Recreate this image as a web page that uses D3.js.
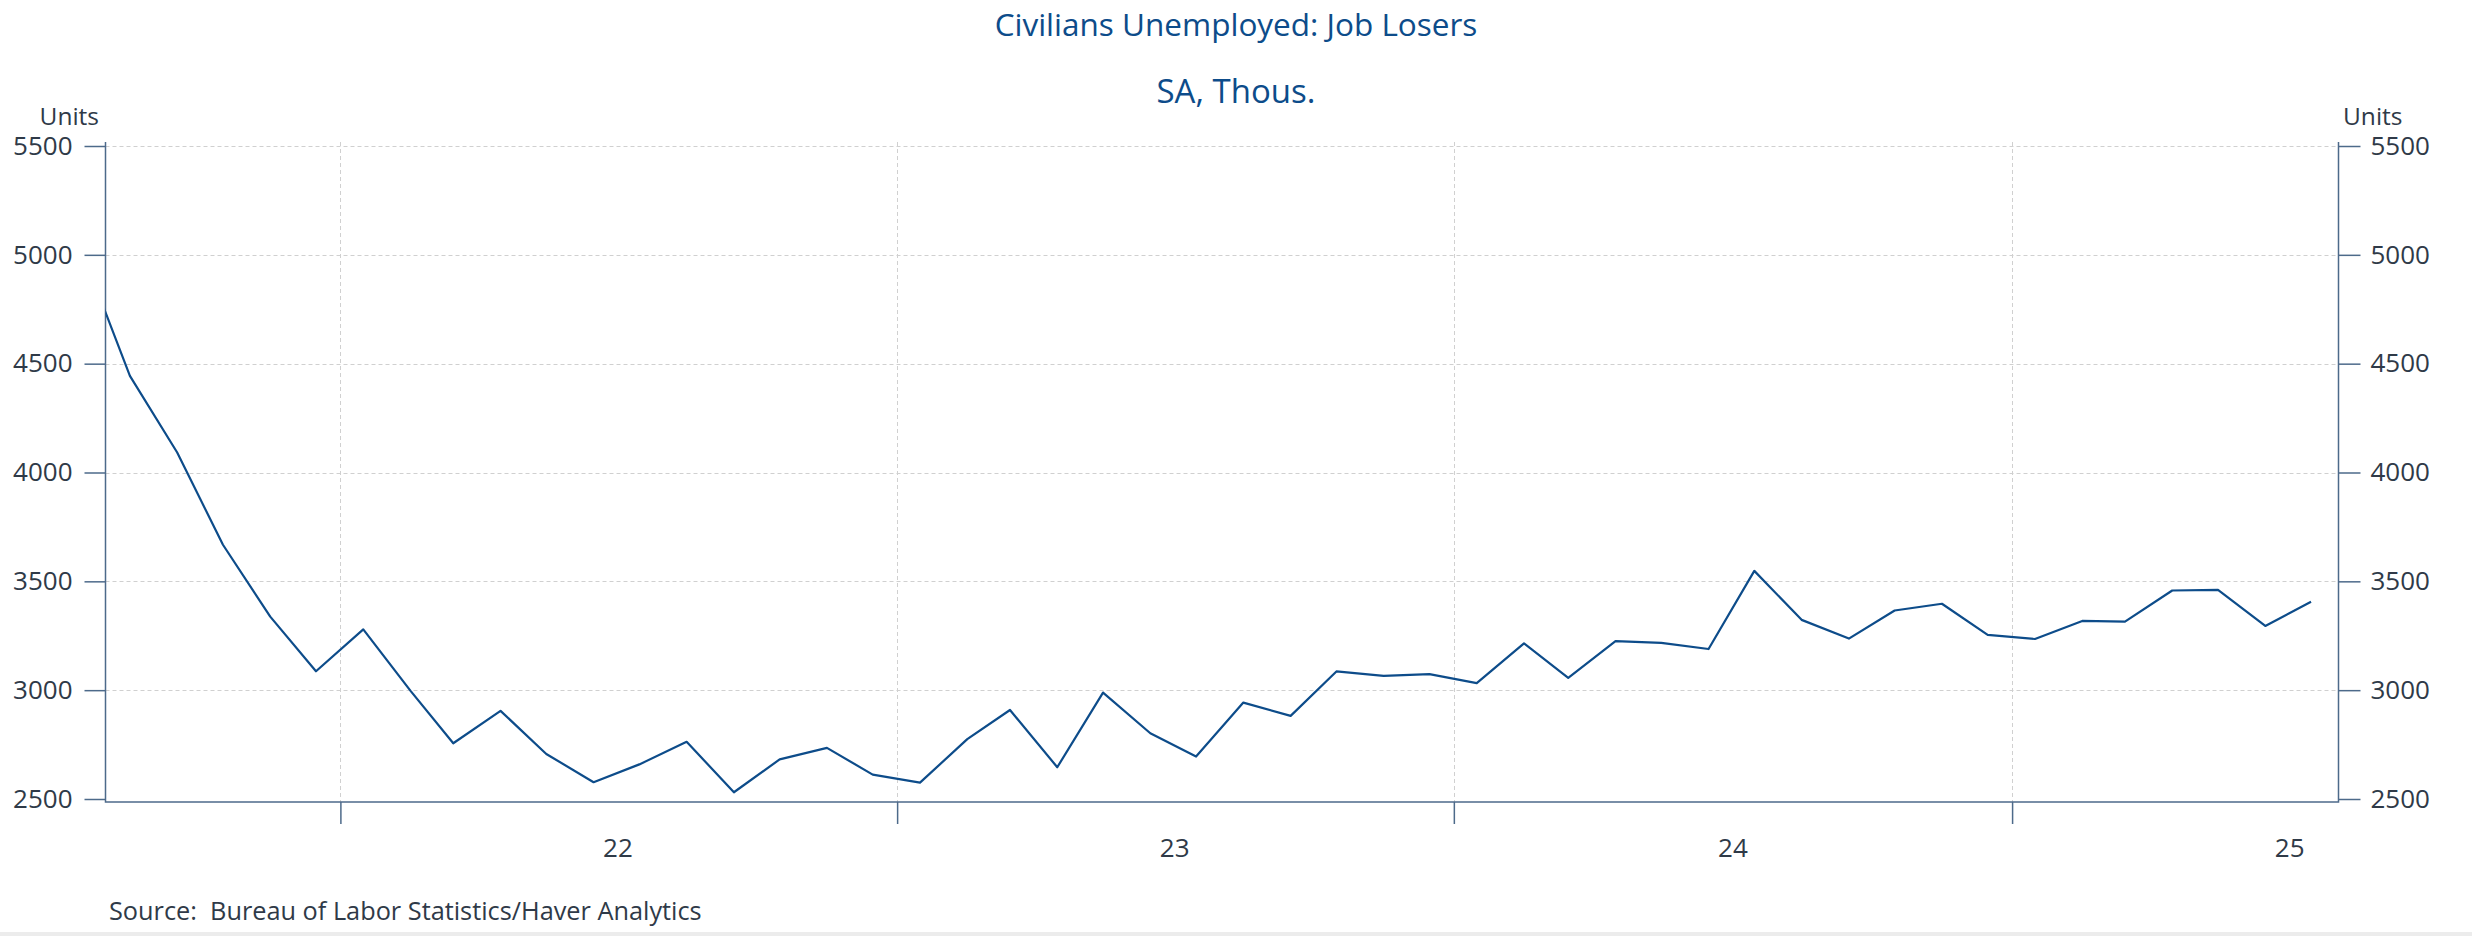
<!DOCTYPE html>
<html>
<head>
<meta charset="utf-8">
<script src="https://cdn.jsdelivr.net/npm/d3@7"></script>
<style>
  body { margin: 0; background: #fff; }
  svg { display: block; font-family: "Open Sans", "Noto Sans", sans-serif; }
</style>
</head>
<body>
<svg id="chart" width="2472" height="936"></svg>
<script>
// monthly observations, thousands (SA)
const months = [
  "2021-07", "2021-08", "2021-09", "2021-10", "2021-11", "2021-12",
  "2022-01", "2022-02", "2022-03", "2022-04", "2022-05", "2022-06",
  "2022-07", "2022-08", "2022-09", "2022-10", "2022-11", "2022-12",
  "2023-01", "2023-02", "2023-03", "2023-04", "2023-05", "2023-06",
  "2023-07", "2023-08", "2023-09", "2023-10", "2023-11", "2023-12",
  "2024-01", "2024-02", "2024-03", "2024-04", "2024-05", "2024-06",
  "2024-07", "2024-08", "2024-09", "2024-10", "2024-11", "2024-12",
  "2025-01", "2025-02", "2025-03", "2025-04", "2025-05", "2025-06",
  "2025-07"
];
const jobLosers = [
  5010, 4444, 4092, 3668, 3338, 3087,
  3279, 2997, 2756, 2905, 2707, 2577,
  2659, 2763, 2531, 2682, 2735, 2612,
  2575, 2775, 2909, 2646, 2989, 2802,
  2695, 2943, 2882, 3086, 3066, 3074,
  3032, 3215, 3057, 3225, 3217, 3189,
  3548, 3323, 3237, 3366, 3397, 3254,
  3235, 3318, 3315, 3458, 3461, 3295,
  3406
];
const yTicks = [2500, 3000, 3500, 4000, 4500, 5000, 5500];
const yearStarts = ["2022-01-01", "2023-01-01", "2024-01-01", "2025-01-01"];
const yearLabels = ["22", "23", "24", "25"];
const yearMids = ["2022-07-02", "2023-07-02", "2024-07-02", "2025-07-02"];

const navy = "#0d4c8a";
const axisColor = "#4d6a8a";
const textColor = "#2f3a48";
const gridColor = "#d0d0d0";

const plotLeft = 105.5, plotRight = 2338.5, plotTop = 142, plotBottom = 802;

const svg = d3.select("#chart");
const parseMonth = d3.timeParse("%Y-%m");
const parseDay = d3.timeParse("%Y-%m-%d");

const data = months.map((m, i) => ({
  date: d3.timeDay.offset(parseMonth(m), 15),
  value: jobLosers[i]
}));

const x = d3.scaleTime()
  .domain([parseDay("2021-07-31"), parseDay("2025-08-03")])
  .range([plotLeft, plotRight]);

const y = d3.scaleLinear()
  .domain([2500, 5500])
  .range([799, 146]);

// titles
svg.append("text")
  .attr("x", 1236).attr("y", 36)
  .attr("text-anchor", "middle")
  .attr("font-size", 31.5)
  .attr("fill", navy)
  .text("Civilians Unemployed: Job Losers");

svg.append("text")
  .attr("x", 1236).attr("y", 103)
  .attr("text-anchor", "middle")
  .attr("font-size", 33)
  .attr("fill", navy)
  .text("SA, Thous.");

svg.append("text")
  .attr("x", 99).attr("y", 125)
  .attr("text-anchor", "end")
  .attr("font-size", 24.5)
  .attr("fill", textColor)
  .text("Units");

svg.append("text")
  .attr("x", 2343).attr("y", 125)
  .attr("font-size", 24.5)
  .attr("fill", textColor)
  .text("Units");

// grid
const grid = svg.append("g").attr("stroke", gridColor).attr("stroke-width", 1).attr("stroke-dasharray", "4,3");
grid.selectAll("line.h")
  .data(yTicks.filter(t => t > 2500))
  .enter().append("line")
  .attr("class", "h")
  .attr("x1", plotLeft).attr("x2", plotRight)
  .attr("y1", d => Math.round(y(d)) + 0.5)
  .attr("y2", d => Math.round(y(d)) + 0.5);
grid.selectAll("line.v")
  .data(yearStarts.map(parseDay))
  .enter().append("line")
  .attr("class", "v")
  .attr("x1", d => Math.round(x(d)) + 0.5)
  .attr("x2", d => Math.round(x(d)) + 0.5)
  .attr("y1", plotTop).attr("y2", plotBottom);

// y axes
function styleAxis(g) {
  g.select(".domain").remove();
  g.selectAll(".tick line").attr("stroke", axisColor).attr("stroke-width", 1.5);
  g.selectAll(".tick text").attr("fill", textColor).attr("font-size", 26)
    .attr("font-family", "\"Open Sans\", \"Noto Sans\", sans-serif");
}

svg.append("g")
  .attr("transform", `translate(${plotLeft},0)`)
  .call(d3.axisLeft(y).tickValues(yTicks).tickSize(21).tickPadding(12).tickFormat(d3.format("d")))
  .call(styleAxis);

svg.append("g")
  .attr("transform", `translate(${plotRight},0)`)
  .call(d3.axisRight(y).tickValues(yTicks).tickSize(22).tickPadding(10).tickFormat(d3.format("d")))
  .call(styleAxis);

// x axis: ticks at year boundaries, labels mid-year
svg.append("g")
  .attr("transform", `translate(0,${plotBottom})`)
  .call(d3.axisBottom(x).tickValues(yearStarts.map(parseDay)).tickSize(22).tickFormat(""))
  .call(styleAxis);

svg.append("g")
  .selectAll("text")
  .data(yearMids)
  .enter().append("text")
  .attr("x", d => x(parseDay(d)))
  .attr("y", 857)
  .attr("text-anchor", "middle")
  .attr("font-size", 26)
  .attr("fill", textColor)
  .text((d, i) => yearLabels[i]);

// frame
svg.append("path")
  .attr("d", `M${plotLeft},${plotTop}V${plotBottom}H${plotRight}V${plotTop}`)
  .attr("fill", "none")
  .attr("stroke", axisColor)
  .attr("stroke-width", 1.5);

// series
svg.append("clipPath").attr("id", "plotClip")
  .append("rect")
  .attr("x", plotLeft).attr("y", plotTop)
  .attr("width", plotRight - plotLeft).attr("height", plotBottom - plotTop);

const line = d3.line()
  .x(d => x(d.date))
  .y(d => y(d.value));

svg.append("path")
  .datum(data)
  .attr("clip-path", "url(#plotClip)")
  .attr("fill", "none")
  .attr("stroke", navy)
  .attr("stroke-width", 2.2)
  .attr("stroke-linejoin", "round")
  .attr("d", line);

// source note
svg.append("text")
  .attr("x", 109).attr("y", 920)
  .attr("font-size", 25.3)
  .attr("fill", textColor)
  .style("white-space", "pre")
  .text("Source:  Bureau of Labor Statistics/Haver Analytics");

svg.append("rect")
  .attr("x", 0).attr("y", 932)
  .attr("width", 2472).attr("height", 4)
  .attr("fill", "#ececec");
</script>
</body>
</html>
